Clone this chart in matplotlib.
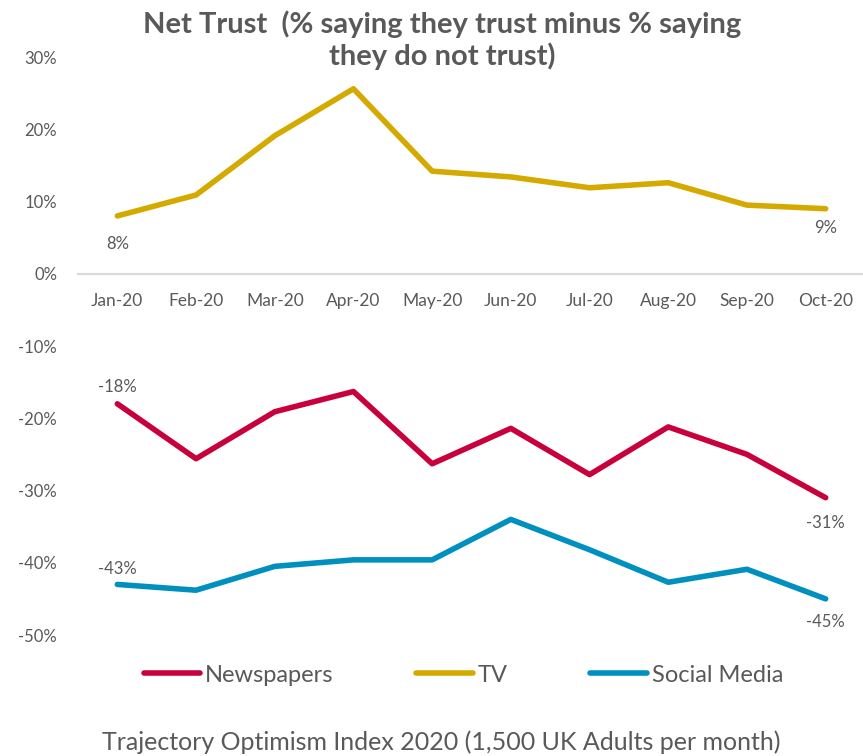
import matplotlib.pyplot as plt

plt.rcParams['font.family'] = ['Lato', 'DejaVu Sans']

months = ['Jan-20', 'Feb-20', 'Mar-20', 'Apr-20', 'May-20',
          'Jun-20', 'Jul-20', 'Aug-20', 'Sep-20', 'Oct-20']
newspapers = [-18, -25.6, -19.1, -16.3, -26.3, -21.4, -27.8, -21.2, -25.0, -31]
tv = [8, 10.9, 19.1, 25.6, 14.2, 13.4, 11.9, 12.6, 9.5, 9]
social = [-43, -43.8, -40.5, -39.6, -39.6, -34.0, -38.2, -42.7, -40.9, -45]

grey = '#595959'
c_news = '#C8003C'
c_tv = '#D4AA00'
c_soc = '#0090C0'

fig = plt.figure(figsize=(8.63, 7.56), dpi=100)
ax = fig.add_axes([78 / 863, 1 - 635 / 756, 787 / 863, (635 - 57) / 756])

x = list(range(len(months)))
ax.plot(x, newspapers, color=c_news, lw=4, label='Newspapers', solid_capstyle='round')
ax.plot(x, tv, color=c_tv, lw=4, label='TV', solid_capstyle='round')
ax.plot(x, social, color=c_soc, lw=4, label='Social Media', solid_capstyle='round')

ax.set_xlim(-0.5, len(months) - 0.5)
ax.set_ylim(-50, 30)
ax.set_yticks(range(-50, 31, 10))
ax.set_yticklabels([f'{v}%' for v in range(-50, 31, 10)], color=grey, fontsize=12)
ax.tick_params(axis='y', length=0, pad=15)

# categories sit on the zero line
for s in ['top', 'right', 'left']:
    ax.spines[s].set_visible(False)
ax.spines['bottom'].set_position(('data', 0))
ax.spines['bottom'].set_color('#D9D9D9')
ax.spines['bottom'].set_linewidth(1.5)
ax.set_xticks(x)
ax.set_xticklabels(months, color=grey, fontsize=12.5)
ax.tick_params(axis='x', length=0, pad=14)

# end-point labels
def lab(i, vals, dy):
    ax.annotate(f'{vals[i]:.0f}%', (x[i], vals[i]), xytext=(0, dy),
                textcoords='offset points', ha='center', va='center',
                color=grey, fontsize=12)

lab(0, tv, -20)
lab(9, tv, -14)
lab(0, newspapers, 12)
lab(9, newspapers, -18)
lab(0, social, 11)
lab(9, social, -17)

fig.text(0.512, 0.986, 'Net Trust  (% saying they trust minus % saying\nthey do not trust)',
         ha='center', va='top', fontsize=21, fontweight='bold', color=grey,
         linespacing=1.2)

fig.legend(loc='center', bbox_to_anchor=(0.537, 0.107), ncol=3, frameon=False,
           handlelength=2.4, handletextpad=0.2, columnspacing=3.5,
           labelcolor=grey, prop={'size': 17})

fig.text(0.511, 0.018, 'Trajectory Optimism Index 2020 (1,500 UK Adults per month)',
         ha='center', va='center', fontsize=18, color=grey)

fig.savefig('out.png', dpi=100)
